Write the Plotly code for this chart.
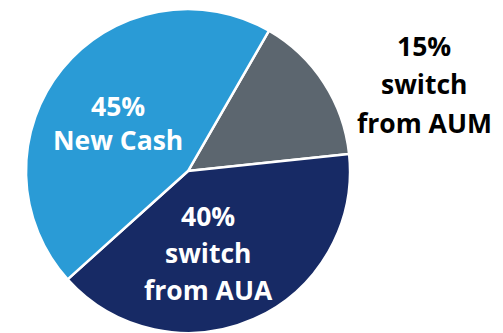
import plotly.graph_objects as go

labels = ["switch from AUM", "switch from AUA", "New Cash"]
values = [15, 40, 45]
colors = ["#5C666F", "#172A65", "#2A9BD6"]
label_lines = [["15%", "switch", "from AUM"], ["40%", "switch", "from AUA"], ["45%", "New Cash"]]
label_colors = ["#000000", "#FFFFFF", "#FFFFFF"]

# layout positions (pixels from top-left of the 503x333 canvas)
W, H = 503, 333
label_cx = [424, 208, 118]
label_line_y = [[46, 84, 123], [216, 253, 290], [106, 140]]

fig = go.Figure(go.Pie(
    labels=labels,
    values=values,
    sort=False,
    direction="clockwise",
    rotation=30,
    marker=dict(colors=colors, line=dict(color="white", width=2.5)),
    textinfo="none",
    hoverinfo="label+percent",
    domain=dict(x=[26/W, 350/W], y=[0, 324/H]),
    showlegend=False,
))

for lines, c, cx, ys in zip(label_lines, label_colors, label_cx, label_line_y):
    for line, y in zip(lines, ys):
        fig.add_annotation(
            text=line, x=cx / W, y=1 - y / H, xref="paper", yref="paper",
            showarrow=False, xanchor="center", yanchor="middle",
            font=dict(family="Open Sans", size=26.5, color=c, weight="bold"),
            align="center",
        )

fig.update_layout(
    width=W, height=H,
    margin=dict(l=0, r=0, t=0, b=0),
    paper_bgcolor="white",
    plot_bgcolor="white",
)

fig.write_html("out.html")
